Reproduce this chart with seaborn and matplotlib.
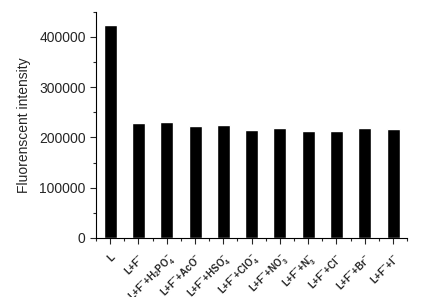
import numpy as np
import pandas as pd
import seaborn as sns
import matplotlib.pyplot as plt
from matplotlib.ticker import MultipleLocator, FixedLocator

etiquetas = [
    'L',
    r'L+F$^{-}$',
    r'L+F$^{-}$+H$_2$PO$_4^{-}$',
    r'L+F$^{-}$+AcO$^{-}$',
    r'L+F$^{-}$+HSO$_4^{-}$',
    r'L+F$^{-}$+ClO$_4^{-}$',
    r'L+F$^{-}$+NO$_3^{-}$',
    r'L+F$^{-}$+N$_3^{-}$',
    r'L+F$^{-}$+Cl$^{-}$',
    r'L+F$^{-}$+Br$^{-}$',
    r'L+F$^{-}$+I$^{-}$',
]
intensidad = [424000, 229000, 231000, 223000, 225000, 215000,
              219000, 213000, 213000, 219000, 217000]

df = pd.DataFrame({'muestra': [str(i) for i in range(len(etiquetas))],
                   'valor': intensidad})

sns.set_style('ticks')
plt.rcParams['font.family'] = ['Liberation Sans', 'DejaVu Sans']
plt.rcParams['mathtext.fontset'] = 'custom'
plt.rcParams['mathtext.rm'] = 'Liberation Sans:bold'
plt.rcParams['mathtext.it'] = 'Liberation Sans:bold'
plt.rcParams['mathtext.bf'] = 'Liberation Sans:bold'

fig = plt.figure(figsize=(4.25, 2.97), dpi=100)
ax = fig.add_axes([0.226, 0.199, 0.732, 0.761])

sns.barplot(data=df, x='muestra', y='valor', color='black', width=0.46,
            saturation=1, ax=ax)

ax.set_xlim(-0.5, 10.5)
ax.set_ylim(0, 450000)
ax.yaxis.set_major_locator(MultipleLocator(100000))
ax.yaxis.set_minor_locator(MultipleLocator(50000))
ax.xaxis.set_minor_locator(FixedLocator(np.arange(-0.5, 11, 1)))
ax.set_xticks(range(len(etiquetas)))
ax.set_xticklabels(etiquetas, rotation=45, ha='right', rotation_mode='anchor',
                   fontsize=7, fontweight='bold')
ax.tick_params(axis='both', which='major', length=4, width=0.8, direction='out')
ax.tick_params(axis='both', which='minor', length=2, width=0.8, direction='out')
ax.tick_params(axis='x', which='major', pad=6)
ax.tick_params(axis='y', labelsize=10)
ax.set_xlabel('')
ax.set_ylabel('Fluorenscent intensity', fontsize=10, labelpad=6)
for s in ['top', 'right']:
    ax.spines[s].set_visible(False)
for s in ['left', 'bottom']:
    ax.spines[s].set_linewidth(0.8)
    ax.spines[s].set_color('black')

fig.savefig('out.png', dpi=100)
